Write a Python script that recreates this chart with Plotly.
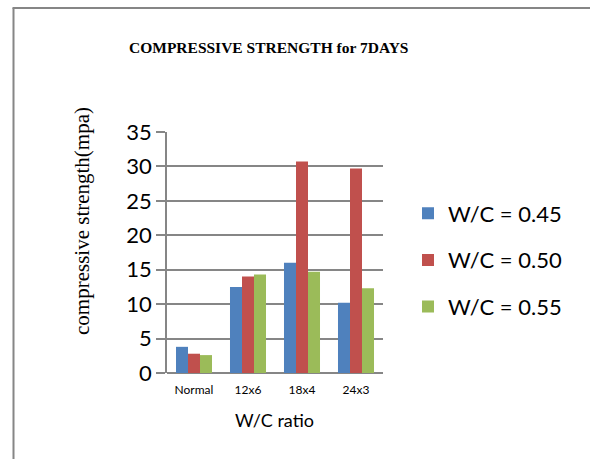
import plotly.graph_objects as go

categories = ["Normal", "12x6", "18x4", "24x3"]
series_names = ["W/C = 0.45", "W/C = 0.50", "W/C = 0.55"]
wc_045 = [3.8, 12.5, 16.0, 10.2]
wc_050 = [2.8, 14.0, 30.7, 29.7]
wc_055 = [2.6, 14.3, 14.7, 12.3]
y_ticks = [0, 5, 10, 15, 20, 25, 30, 35]
colors = ["#4F81BD", "#C0504D", "#9BBB59"]

fig = go.Figure()
for i, (name, vals) in enumerate(zip(series_names, [wc_045, wc_050, wc_055])):
    fig.add_trace(go.Bar(x=categories, y=vals, name=name, marker=dict(color=colors[i], line=dict(width=0)),
                         legendgroup=str(i)))

W, H = 590, 459
x0, x1, y0, y1 = 167, 383, 132, 373
pw, ph = x1 - x0, y1 - y0
def px(x):
    return (x - x0) / pw
def py(y):
    return (y1 - y) / ph

fig.update_layout(
    width=W, height=H,
    margin=dict(l=x0, r=W - x1, t=y0, b=H - y1, autoexpand=False),
    paper_bgcolor="white", plot_bgcolor="white",
    barmode="group", bargap=0.333, bargroupgap=0,
    showlegend=True,
    legend=dict(x=px(408), y=py(260), xanchor="left", yanchor="middle",
                font=dict(family="Lato", size=22, color="black"),
                tracegroupgap=15, itemwidth=30, bgcolor="rgba(0,0,0,0)"),
    font=dict(family="Lato", color="black"),
)
fig.update_xaxes(
    type="category", showgrid=False, showline=False,
    tickfont=dict(family="Lato", size=12, color="black"),
    ticks="", ticklabelstandoff=8,
)
fig.update_yaxes(
    range=[0, 35], tickvals=y_ticks, showgrid=True, gridcolor="#868686", gridwidth=1.6,
    zeroline=True, zerolinecolor="#868686", zerolinewidth=1.6,
    showline=True, linecolor="#868686", linewidth=1.6,
    ticks="outside", ticklen=9, tickcolor="#868686", tickwidth=1.6,
    tickfont=dict(family="Lato", size=22, color="black"),
)

# outer chart border (left and top edges visible)
border = dict(color="#868686", width=2)
fig.add_shape(type="line", xref="paper", yref="paper",
              x0=px(13.5), x1=px(13.5), y0=py(8), y1=py(470), line=border, layer="below")
fig.add_shape(type="line", xref="paper", yref="paper",
              x0=px(12.5), x1=px(600), y0=py(8), y1=py(8), line=border, layer="below")

fig.add_annotation(text="<b>COMPRESSIVE STRENGTH for 7DAYS</b>", xref="paper", yref="paper",
                   x=px(268), y=py(48), showarrow=False, xanchor="center", yanchor="middle",
                   font=dict(family="Liberation Serif", size=15.5, color="black"))
fig.add_annotation(text="compressive strength(mpa)", xref="paper", yref="paper",
                   x=px(82), y=py(221), showarrow=False, textangle=-90, xanchor="center", yanchor="middle",
                   font=dict(family="Liberation Serif", size=21, color="black"))
fig.add_annotation(text="W/C ratio", xref="paper", yref="paper",
                   x=px(274), y=py(420), showarrow=False, xanchor="center", yanchor="middle",
                   font=dict(family="Lato", size=18, color="black"))

fig.write_html("out.html", config={"displayModeBar": False},
               post_script="document.body.style.margin='0';document.body.style.overflow='hidden';")
